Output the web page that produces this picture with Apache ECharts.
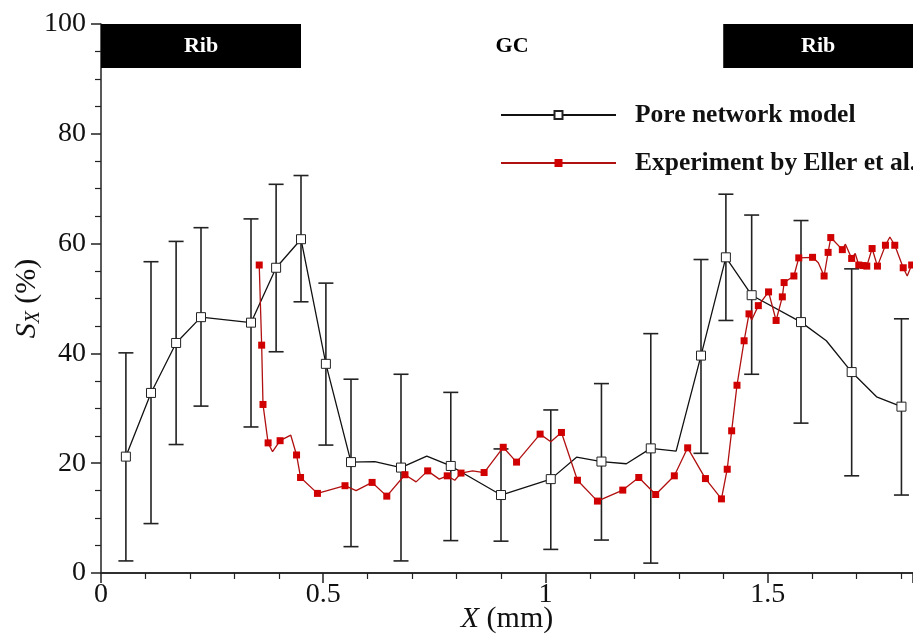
<!DOCTYPE html>
<html><head><meta charset="utf-8">
<script src="https://cdn.jsdelivr.net/npm/echarts@6/dist/echarts.min.js"></script>
<style>html,body{margin:0;padding:0;background:#fff}#c{width:913px;height:637px}</style>
</head><body><div id="c"></div>
<script>
// Pore network model: line vertices
const pnmX = [0.056,0.1125,0.169,0.225,0.3375,0.394,0.45,0.506,0.5625,0.616,0.675,0.733,0.787,0.9,1.012,1.07,1.126,1.182,1.237,1.294,1.35,1.406,1.464,1.575,1.632,1.689,1.745,1.801];
const pnmY = [21.2,32.8,41.9,46.6,45.6,55.6,60.8,38.1,20.2,20.3,19.2,21.3,19.5,14.2,17.1,21.1,20.3,19.9,22.7,22.2,39.6,57.5,50.6,45.7,42.3,36.6,32.1,30.3];
// Pore network model: marked points with error bars
const errX    = [0.056,0.1125,0.169,0.225,0.3375,0.394,0.45,0.506,0.5625,0.675,0.787,0.9,1.012,1.126,1.237,1.35,1.406,1.464,1.575,1.689,1.801];
const errLow  = [2.2,9.0,23.4,30.4,26.6,40.3,49.4,23.3,4.8,2.2,5.9,5.8,4.3,6.0,1.8,21.8,46.0,36.2,27.3,17.7,14.2];
const errHigh = [40.1,56.7,60.4,62.9,64.5,70.8,72.4,52.8,35.3,36.2,32.9,22.6,29.7,34.5,43.6,57.1,69.0,65.2,64.2,55.4,46.3];
// Experiment by Eller et al.
const expX = [0.356,0.3615,0.3645,0.376,0.386,0.403,0.427,0.44,0.449,0.487,0.549,0.574,0.61,0.643,0.684,0.709,0.735,0.761,0.779,0.796,0.81,0.836,0.862,0.905,0.935,0.988,1.012,1.036,1.072,1.117,1.174,1.21,1.248,1.29,1.32,1.36,1.396,1.409,1.419,1.431,1.447,1.458,1.464,1.479,1.502,1.519,1.533,1.537,1.559,1.57,1.601,1.614,1.627,1.636,1.642,1.668,1.675,1.689,1.697,1.705,1.715,1.723,1.735,1.747,1.765,1.775,1.786,1.805,1.814,1.824];
const expY = [56.1,41.5,30.7,23.7,22.1,24.1,25.1,21.5,17.4,14.5,15.9,15.0,16.5,14.0,17.9,16.6,18.6,17.1,17.7,16.9,18.2,18.6,18.3,22.9,20.2,25.3,23.9,25.6,16.9,13.1,15.1,17.4,14.3,17.7,22.8,17.2,13.5,18.9,25.9,34.2,42.3,47.2,46.1,48.7,51.2,46.0,50.3,52.9,54.1,57.4,57.5,56.5,54.1,58.4,61.1,58.9,59.9,57.3,58.2,56.1,56.0,55.9,59.1,55.9,59.7,61.2,59.7,55.6,54.1,56.1];
const expMarked = [1,1,1,1,0,1,0,1,1,1,1,0,1,1,1,0,1,0,1,0,1,0,1,1,1,1,0,1,1,1,1,1,1,1,1,1,1,1,1,1,1,1,0,1,1,1,1,1,1,1,1,0,1,1,1,1,0,1,0,1,1,1,1,1,1,0,1,1,0,1];
// Region bands
const bandNames = ['Rib','GC','Rib'];
const bandStart = [0, 0.45, 1.40];
const bandEnd   = [0.45, 1.40, 1.827];
const bandLow = 92, bandHigh = 100;
const xMin = 0, xMax = 1.827, xStep = 0.5;
const yMin = 0, yMax = 100, yStep = 20;
const seriesNames = ['Pore network model','Experiment by Eller et al.'];

const FONT = '"Liberation Serif","Times New Roman",serif';
const chart = echarts.init(document.getElementById('c'), null, {renderer:'canvas'});

const pnmData = pnmX.map((x,i)=>{
  const marked = errX.some(e=>Math.abs(e-x)<1e-6);
  return marked ? {value:[x,pnmY[i]]} : {value:[x,pnmY[i]], symbol:'none'};
});
const expData = expX.map((x,i)=> expMarked[i] ? {value:[x,expY[i]]} : {value:[x,expY[i]], symbol:'none'});
const errData = errX.map((x,i)=>[x,errLow[i],errHigh[i]]);
const bandData = bandNames.map((n,i)=>[bandStart[i],bandEnd[i],n]);

function fmt(v){ const r = Math.round(v*1000)/1000; return (Math.abs(r/xStep - Math.round(r/xStep))<1e-6) ? String(r) : ''; }

chart.setOption({
  animation:false,
  backgroundColor:'#fff',
  grid:{left:101,right:0,top:24,bottom:64,containLabel:false,outerBoundsMode:'none'},
  legend:{
    orient:'vertical', left:495, top:97, itemGap:22, itemWidth:115, itemHeight:10,
    data:seriesNames,
    textStyle:{fontFamily:FONT,fontWeight:'bold',fontSize:25.5,color:'#111',lineHeight:26,padding:[0,0,0,14]}
  },
  xAxis:[{
    type:'value', min:xMin, max:xMax, interval:xStep,
    name:'{i|X}{n| (mm)}', nameLocation:'middle', nameGap:31, nameMoveOverlap:false,
    nameTextStyle:{rich:{i:{fontFamily:FONT,fontStyle:'italic',fontSize:30,color:'#111'},n:{fontFamily:FONT,fontSize:30,color:'#111'}}},
    axisLine:{show:true,onZero:false,lineStyle:{color:'#222',width:1.5}},
    axisTick:{show:true,inside:false,length:10,lineStyle:{color:'#222',width:1.5}},
    minorTick:{show:true,splitNumber:5,length:6,lineStyle:{color:'#222',width:1.2}},
    splitLine:{show:false},
    axisLabel:{fontFamily:FONT,fontSize:28,color:'#111',margin:8,formatter:fmt,showMaxLabel:false}
  },{
    type:'value', position:'top', min:xMin, max:xMax,
    axisLine:{show:true,lineStyle:{color:'#222',width:1.5}},
    axisTick:{show:false}, axisLabel:{show:false}, splitLine:{show:false}
  }],
  yAxis:{
    type:'value', min:yMin, max:yMax, interval:yStep,
    name:'{s|S}{sub|X}{n| (%)}', nameLocation:'middle', nameGap:57, nameMoveOverlap:false,
    nameTextStyle:{rich:{
      s:{fontFamily:FONT,fontStyle:'italic',fontSize:30,color:'#111'},
      sub:{fontFamily:FONT,fontStyle:'italic',fontSize:20,color:'#111',verticalAlign:'bottom',padding:[14,0,0,0]},
      n:{fontFamily:FONT,fontSize:30,color:'#111'}}},
    axisLine:{show:true,lineStyle:{color:'#222',width:1.5}},
    axisTick:{show:true,inside:false,length:10,lineStyle:{color:'#222',width:1.5}},
    minorTick:{show:true,splitNumber:4,length:6,lineStyle:{color:'#222',width:1.2}},
    splitLine:{show:false},
    axisLabel:{fontFamily:FONT,fontSize:28,color:'#111',margin:15}
  },
  series:[
    {
      type:'custom', name:'bands', silent:true, z:1,
      data:bandData, encode:{x:[0,1]},
      renderItem:function(params,api){
        const p0 = api.coord([api.value(0),bandHigh]);
        const p1 = api.coord([api.value(1),bandLow]);
        const name = bandData[params.dataIndex][2];
        const rib = name==='Rib';
        return {type:'group',children:[
          {type:'rect',shape:{x:p0[0],y:p0[1],width:p1[0]-p0[0],height:p1[1]-p0[1]},style:{fill:rib?'#000':'#fff'}},
          {type:'text',x:(p0[0]+p1[0])/2,y:(p0[1]+p1[1])/2,style:{text:name,fill:rib?'#fff':'#000',font:'bold 22px '+FONT,align:'center',verticalAlign:'middle'}}
        ]};
      }
    },
    {
      type:'custom', name:'errorbars', silent:true, z:2,
      data:errData, encode:{x:0,y:[1,2]},
      renderItem:function(params,api){
        const x = api.value(0);
        const lo = api.coord([x,api.value(1)]);
        const hi = api.coord([x,api.value(2)]);
        const w = 7.5;
        const st = {stroke:'#222',lineWidth:1.6};
        return {type:'group',children:[
          {type:'line',shape:{x1:lo[0],y1:lo[1],x2:hi[0],y2:hi[1]},style:st},
          {type:'line',shape:{x1:lo[0]-w,y1:lo[1],x2:lo[0]+w,y2:lo[1]},style:st},
          {type:'line',shape:{x1:hi[0]-w,y1:hi[1],x2:hi[0]+w,y2:hi[1]},style:st}
        ]};
      }
    },
    {
      type:'line', name:seriesNames[0], data:pnmData, z:3,
      symbol:'rect', symbolSize:9, showAllSymbol:true,
      lineStyle:{color:'#111',width:1.3},
      itemStyle:{color:'#fff',borderColor:'#222',borderWidth:1}
    },
    {
      type:'line', name:seriesNames[1], data:expData, z:4,
      symbol:'rect', symbolSize:7, showAllSymbol:true,
      lineStyle:{color:'#b01010',width:1.3},
      itemStyle:{color:'#d00000',borderColor:'#d00000',borderWidth:0}
    }
  ]
});
</script>
</body></html>
